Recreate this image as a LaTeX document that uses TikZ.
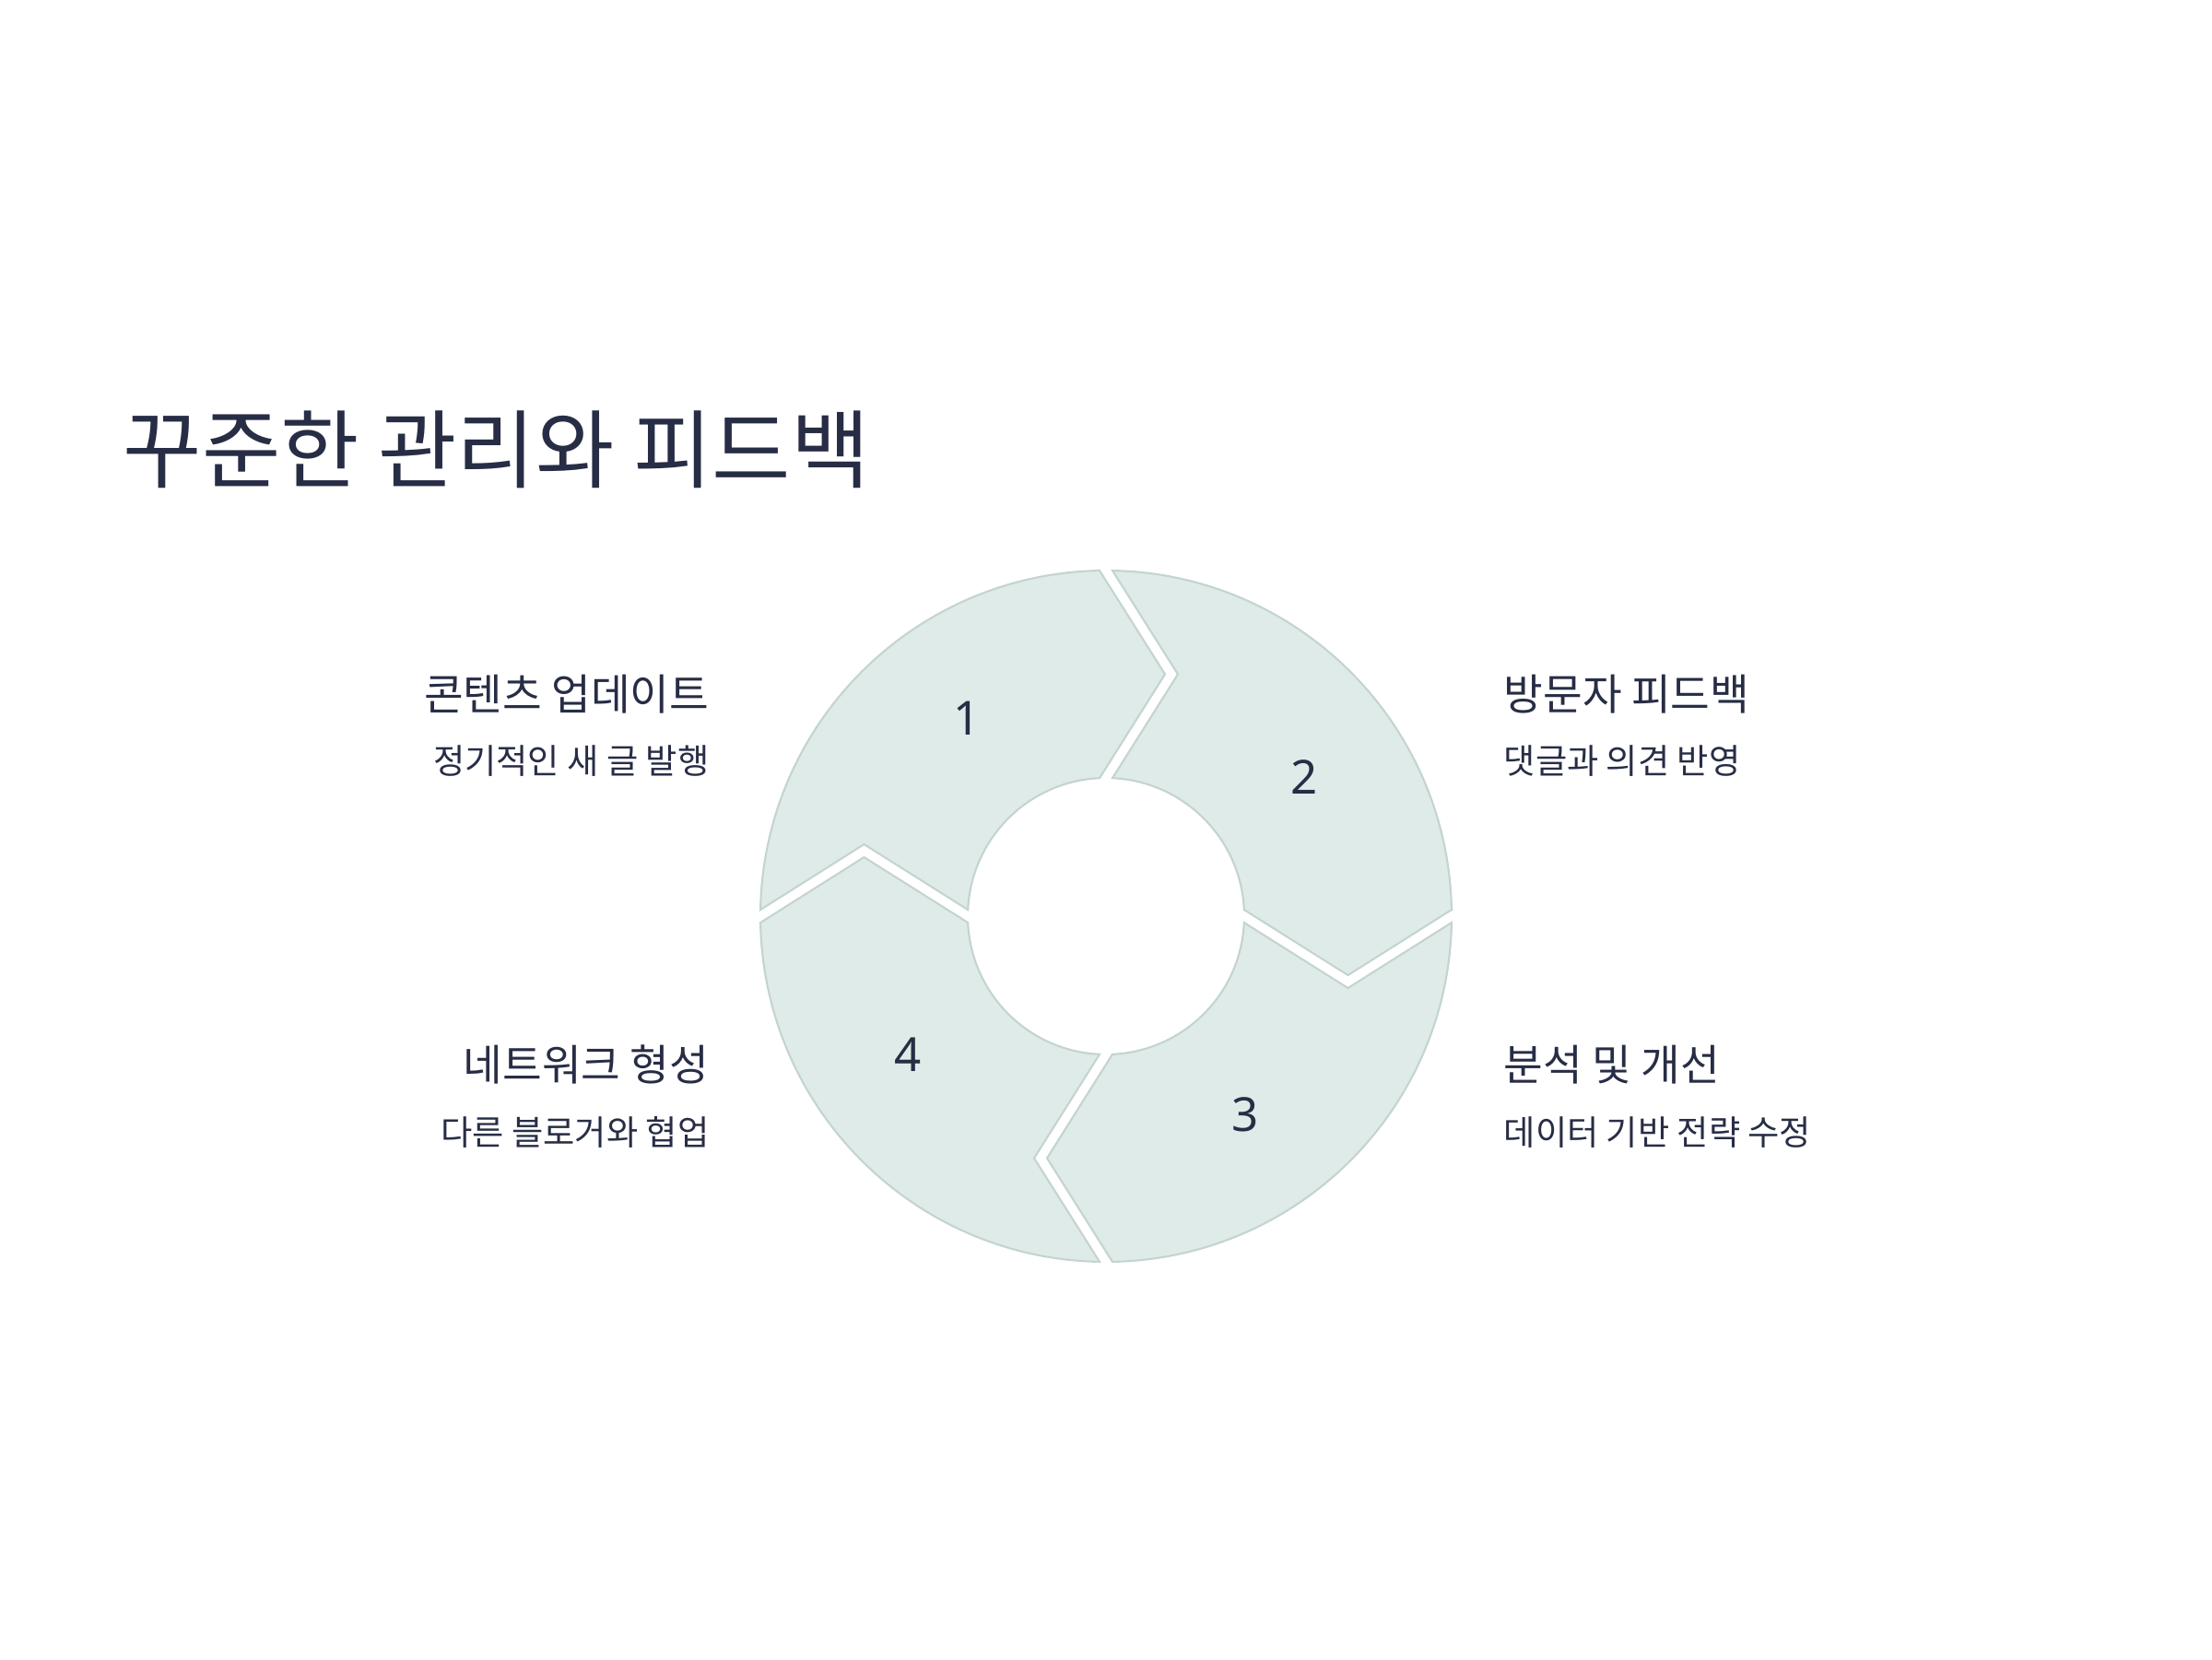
\documentclass[tikz,border=0pt]{standalone}
\usepackage{fontspec}
\setmainfont{Noto Sans CJK KR}
\newfontfamily\digitfont{Noto Sans}
\usepackage{tikz}
\usetikzlibrary{calc}
\definecolor{ink}{HTML}{272D45}
\definecolor{segfill}{HTML}{DFEBE8}
\definecolor{segline}{HTML}{C4D4CF}

\begin{document}
\begin{tikzpicture}[
  seg/.style={fill=segfill,draw=segline,line width=0.6pt,line join=miter},
  titletext/.style={text=ink,inner sep=0pt,font=\fontsize{26.4}{31}\selectfont},
  headtext/.style={text=ink,inner sep=0pt,font=\fontsize{13.2}{16}\selectfont},
  subtext/.style={text=ink,inner sep=0pt,font=\fontsize{10.6}{13}\selectfont},
  numtext/.style={text=ink,inner sep=0pt,font=\digitfont\fontsize{14.5}{17}\selectfont},
  % one quarter of the ring: notch at the left end, point at the top end
  segment/.pic={
    \draw[seg] (91.07:3.75) -- (0.64,2.625) -- (92.67:1.5)
      arc[start angle=92.67,end angle=177.33,radius=1.5]
      -- (-2.625,0.78) -- (178.93:3.75)
      arc[start angle=178.93,end angle=91.07,radius=3.75] -- cycle;
  }
]
  % page: 24cm x 18cm
  \fill[white] (0,0) rectangle (24,18);
  \useasboundingbox (0,0) rectangle (24,18);

  \node[titletext,anchor=base west] (title) at (1.33,12.78) {꾸준한 관리와 피드백};

  \coordinate (ctr) at (12.0,8.06);
  \pic (s1) at (ctr) {segment};
  \pic[rotate=-90] (s2) at (ctr) {segment};
  \pic[rotate=-180] (s3) at (ctr) {segment};
  \pic[rotate=-270] (s4) at (ctr) {segment};

  \node[numtext] (n1) at ([shift={(125:2.625)}]ctr) {1};
  \node[numtext] (n2) at ([shift={(35:2.625)}]ctr) {2};
  \node[numtext] (n3) at ([shift={(-55:2.625)}]ctr) {3};
  \node[numtext] (n4) at ([shift={(215:2.625)}]ctr) {4};

  % left column
  \node[headtext,anchor=base east] (h1) at (7.70,10.30) {콘텐츠 업데이트};
  \node[subtext,anchor=base east] (t1) at (7.70,9.61) {정기적인 새 글 발행};
  \node[headtext,anchor=base east] (h4) at (7.70,6.28) {네트워크 형성};
  \node[subtext,anchor=base east] (t4) at (7.70,5.58) {다른 블로거와 협업};

  % right column
  \node[headtext,anchor=base west] (h2) at (16.31,10.30) {방문자 피드백};
  \node[subtext,anchor=base west] (t2) at (16.31,9.61) {댓글과 의견 반영};
  \node[headtext,anchor=base west] (h3) at (16.31,6.28) {분석 및 개선};
  \node[subtext,anchor=base west] (t3) at (16.31,5.58) {데이터 기반 전략 수정};
\end{tikzpicture}
\end{document}
